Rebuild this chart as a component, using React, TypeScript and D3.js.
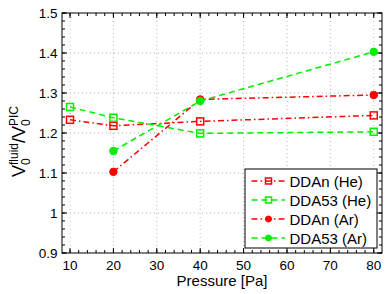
import React from "react";
import * as d3 from "d3";

const pressures = [10, 20, 40, 80];
const pressuresAr = [20, 40, 80];
const ddanHe = [1.233, 1.218, 1.229, 1.244];
const dda53He = [1.265, 1.238, 1.199, 1.203];
const ddanAr = [1.103, 1.284, 1.295];
const dda53Ar = [1.155, 1.28, 1.403];
const xTicks = [10, 20, 30, 40, 50, 60, 70, 80];
const yTicks = [0.9, 1.0, 1.1, 1.2, 1.3, 1.4, 1.5];
const yTickLabels = ["0.9", "1", "1.1", "1.2", "1.3", "1.4", "1.5"];

const RED = "#ff0000";
const GREEN = "#00ee00";
const DASH = "6,4";
const DASHDOT = "6,3,1.5,3";

type Series = { name: string; xs: number[]; ys: number[]; color: string; dash: string; marker: "square" | "circle" };

const series: Series[] = [
  { name: "DDAn (He)", xs: pressures, ys: ddanHe, color: RED, dash: DASHDOT, marker: "square" },
  { name: "DDA53 (He)", xs: pressures, ys: dda53He, color: GREEN, dash: DASH, marker: "square" },
  { name: "DDAn (Ar)", xs: pressuresAr, ys: ddanAr, color: RED, dash: DASHDOT, marker: "circle" },
  { name: "DDA53 (Ar)", xs: pressuresAr, ys: dda53Ar, color: GREEN, dash: DASH, marker: "circle" },
];

const FONT = "'Liberation Sans', Arial, Helvetica, sans-serif";

function Marker({ kind, x, y, color, size }: { kind: string; x: number; y: number; color: string; size: number }) {
  if (kind === "square") {
    return <rect x={x - size / 2} y={y - size / 2} width={size} height={size} fill="none" stroke={color} strokeWidth={1.5} />;
  }
  return <circle cx={x} cy={y} r={size / 2} fill={color} stroke={color} strokeWidth={1} />;
}

export default function App() {
  const W = 390, H = 294;
  const L = 62, R = 382, T = 13, B = 253;
  const x = d3.scaleLinear().domain([8.15, 81.9]).range([L, R]);
  const y = d3.scaleLinear().domain([0.9, 1.5]).range([B, T]);
  const line = d3.line<[number, number]>().x((d) => x(d[0])).y((d) => y(d[1]));
  const xMinor = d3.range(10, 82, 2);
  const yMinor = d3.range(0.9, 1.5001, 0.02);

  const legendItems = series;
  const lgX = 245, lgY = 169, lgW = 132, lgH = 79;

  return (
    <svg width={W} height={H} style={{ position: "absolute", left: 0, top: 0, background: "#fff" }} fontFamily={FONT}>
      <rect x={0} y={0} width={W} height={H} fill="#fff" />
      {/* grid */}
      {xTicks.map((t) => (
        <line key={"gx" + t} x1={x(t)} x2={x(t)} y1={T} y2={B} stroke="#b8b8b8" strokeWidth={1} strokeDasharray="1,3" />
      ))}
      {yTicks.slice(1, -1).map((t) => (
        <line key={"gy" + t} x1={L} x2={R} y1={y(t)} y2={y(t)} stroke="#b8b8b8" strokeWidth={1} strokeDasharray="1,3" />
      ))}
      {/* minor ticks */}
      {xMinor.map((t) => (
        <g key={"mx" + t}>
          <line x1={x(t)} x2={x(t)} y1={B} y2={B - 3} stroke="#000" />
          <line x1={x(t)} x2={x(t)} y1={T} y2={T + 3} stroke="#000" />
        </g>
      ))}
      {yMinor.map((t, i) => (
        <g key={"my" + i}>
          <line x1={L} x2={L + 3} y1={y(t)} y2={y(t)} stroke="#000" />
          <line x1={R} x2={R - 3} y1={y(t)} y2={y(t)} stroke="#000" />
        </g>
      ))}
      {/* major ticks */}
      {xTicks.map((t) => (
        <g key={"Mx" + t}>
          <line x1={x(t)} x2={x(t)} y1={B} y2={B - 5} stroke="#000" />
          <line x1={x(t)} x2={x(t)} y1={T} y2={T + 5} stroke="#000" />
          <text x={x(t)} y={270} fontSize={13.5} textAnchor="middle" fill="#000">{t}</text>
        </g>
      ))}
      {yTicks.map((t, i) => (
        <g key={"My" + t}>
          <line x1={L} x2={L + 5} y1={y(t)} y2={y(t)} stroke="#000" />
          <line x1={R} x2={R - 5} y1={y(t)} y2={y(t)} stroke="#000" />
          <text x={57.5} y={y(t) + 5} fontSize={13.5} textAnchor="end" fill="#000">{yTickLabels[i]}</text>
        </g>
      ))}
      {/* series */}
      {series.map((s) => {
        const pts = s.xs.map((v, i) => [v, s.ys[i]] as [number, number]);
        return (
          <g key={s.name}>
            <path d={line(pts) || ""} fill="none" stroke={s.color} strokeWidth={1.5} strokeDasharray={s.dash} />
            {pts.map((p, i) => (
              <Marker key={i} kind={s.marker} x={x(p[0])} y={y(p[1])} color={s.color} size={s.marker === "square" ? 7 : 7.5} />
            ))}
          </g>
        );
      })}
      {/* axes box */}
      <rect x={L} y={T} width={R - L} height={B - T} fill="none" stroke="#000" strokeWidth={1} />
      {/* x label */}
      <text x={222} y={286} fontSize={15} textAnchor="middle" fill="#000">Pressure [Pa]</text>
      {/* y label */}
      <g transform="translate(25,177) rotate(-90)">
        <text x={0} y={0} fontSize={18} fill="#000">
          <tspan>V</tspan>
          <tspan fontSize={12} dy={5}>0</tspan>
          <tspan fontSize={12} dx={-6.7} dy={-12}>fluid</tspan>
          <tspan dy={7}>/V</tspan>
          <tspan fontSize={12} dy={5}>0</tspan>
          <tspan fontSize={12} dx={-6.7} dy={-12}>PIC</tspan>
        </text>
      </g>
      {/* legend */}
      <rect x={lgX} y={lgY} width={lgW} height={lgH} fill="#fff" stroke="#000" strokeWidth={1} />
      {legendItems.map((s, i) => {
        const cy = 181 + i * 19;
        return (
          <g key={"lg" + s.name}>
            <line x1={251.5} x2={285} y1={cy} y2={cy} stroke={s.color} strokeWidth={1.5} strokeDasharray={s.dash} />
            <Marker kind={s.marker} x={268.5} y={cy} color={s.color} size={6} />
            <text x={289.5} y={cy + 5.5} fontSize={15} fill="#000">{s.name}</text>
          </g>
        );
      })}
    </svg>
  );
}
